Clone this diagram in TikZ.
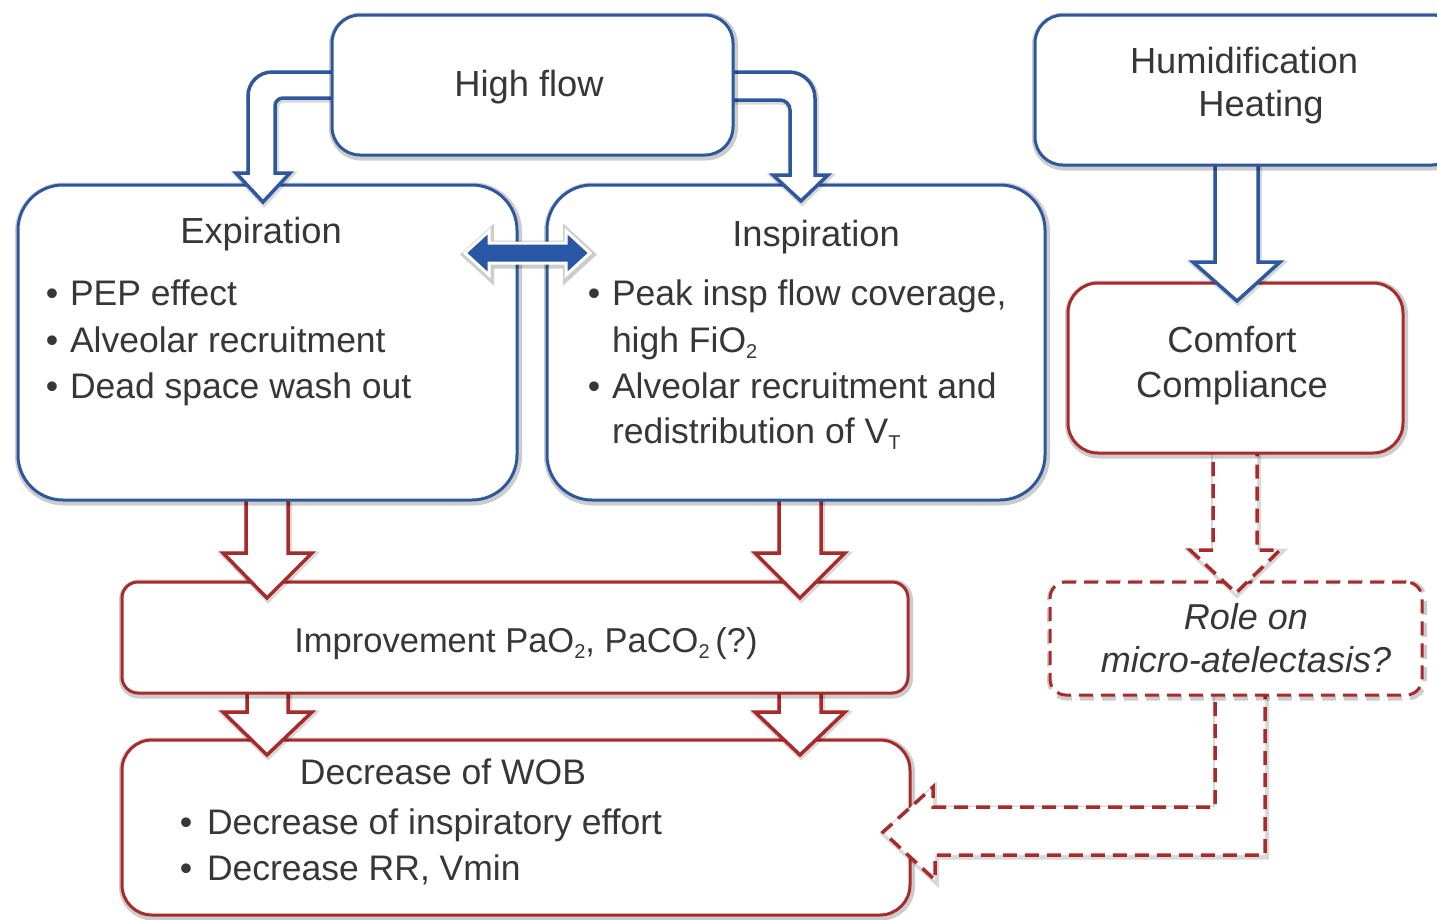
\documentclass[tikz,border=0pt]{standalone}
\usepackage{fontspec}
\setmainfont{Liberation Sans}
\definecolor{hfblue}{RGB}{46,88,158}
\definecolor{hfred}{RGB}{168,42,42}
\definecolor{txtgray}{RGB}{55,55,55}
\definecolor{arrblue}{RGB}{40,88,165}
\newcommand\mysub[1]{\raisebox{-6pt}{\fontsize{20}{20}\selectfont #1}}
\begin{document}
\begin{tikzpicture}[x=1pt,y=-1pt,
  txt/.style={text=txtgray, font=\fontsize{35.5}{42}\selectfont, inner sep=0pt, outer sep=0pt},
  head/.style={txt, font=\fontsize{36.3}{42}\selectfont},
  itxt/.style={txt, font=\fontsize{36}{42}\selectfont\itshape},
  halo/.style={preaction={draw=black, draw opacity=0.2, line width=8pt, transform canvas={shift={(1pt,-1.5pt)}}}},
  halosmall/.style={preaction={draw=black, draw opacity=0.15, line width=6pt, transform canvas={shift={(1pt,-1.5pt)}}}},
  box/.style={draw, line width=3pt, fill=white, inner sep=0pt, outer sep=0pt, halo},
  bluebox/.style={box, draw=hfblue},
  redbox/.style={box, draw=hfred},
  dashbox/.style={redbox, dash pattern=on 14pt off 8pt},
  barrow/.style={draw=hfblue, line width=3.5pt, fill=white, line join=miter, halosmall},
  rarrow/.style={draw=hfred, line width=3.5pt, fill=white, line join=miter, halosmall},
  darrow/.style={rarrow, dash pattern=on 14pt off 8pt},
  dblarrow/.style={draw=white, line width=3pt, fill=arrblue, line join=miter, halo}
]
\useasboundingbox (0,0) rectangle (1437,919);
\clip (0,0) rectangle (1437,919);
\fill[white] (0,0) rectangle (1437,919);

% bottom box: Decrease of WOB
\node[redbox, rounded corners=30pt, minimum width=788pt, minimum height=175pt] (wob) at (516,827.5) {};
% dashed L arrow from Role box to WOB
\draw[darrow] (1215,680) -- (1215,807) -- (933,807) -- (933,787) -- (883,832) -- (935,880) -- (935,855) -- (1265,855) -- (1265,680) -- cycle;
% arrows Improvement -> WOB
\draw[rarrow] (247,675) -- (247,712) -- (223,712) -- (267,755) -- (312,712) -- (288,712) -- (288,675) -- cycle;
\draw[rarrow] (779,675) -- (779,712) -- (755,712) -- (800,755) -- (845,712) -- (821,712) -- (821,675) -- cycle;
% Improvement box
\node[redbox, rounded corners=16pt, minimum width=786pt, minimum height=111pt] (imp) at (515,637.5) {};
% arrows Expiration/Inspiration -> Improvement
\draw[rarrow] (246,480) -- (246,553) -- (223,553) -- (267,598) -- (312,553) -- (288,553) -- (288,480) -- cycle;
\draw[rarrow] (779,480) -- (779,553) -- (755,553) -- (800,598) -- (845,553) -- (821,553) -- (821,480) -- cycle;
% Role box
\node[dashbox, rounded corners=16pt, minimum width=372pt, minimum height=113pt] (role) at (1236,638.5) {};
% Comfort -> Role arrow
\draw[darrow] (1213,440) -- (1213,550) -- (1190,550) -- (1236,593) -- (1280,550) -- (1257,550) -- (1257,440) -- cycle;
% Comfort box
\node[redbox, rounded corners=30pt, minimum width=335pt, minimum height=170pt] (comf) at (1235.5,368) {};
% Humidification -> Comfort arrow
\draw[barrow] (1215,150) -- (1215,262) -- (1193,262) -- (1237,301) -- (1280,262) -- (1258,262) -- (1258,150) -- cycle;
% Humidification box
\node[bluebox, rounded corners=28pt, minimum width=425pt, minimum height=150pt] (hum) at (1247.5,90) {};
% Expiration and Inspiration boxes
\node[bluebox, rounded corners=45pt, minimum width=499pt, minimum height=315pt] (exp) at (267.5,342.5) {};
\node[bluebox, rounded corners=45pt, minimum width=498pt, minimum height=315pt] (insp) at (796,342.5) {};
% High flow bent arrows
\draw[barrow] (345,72) [rounded corners=24pt] -- (248,72) -- (248,130) [sharp corners] -- (248,173) -- (236,173) -- (263,202) -- (290,173) -- (275,173) [rounded corners=8pt] -- (275,98) -- (300,98) [sharp corners] -- (345,98) -- cycle;
\draw[barrow] (720,72) [rounded corners=26pt] -- (815,72) -- (815,130) [sharp corners] -- (815,175) -- (828,175) -- (801,201) -- (773,175) -- (790,175) [rounded corners=10pt] -- (790,100) -- (760,100) [sharp corners] -- (720,100) -- cycle;
% High flow box
\node[bluebox, rounded corners=28pt, minimum width=401pt, minimum height=140pt] (hf) at (532.5,85) {};
% double arrow between Expiration and Inspiration
\draw[dblarrow] (465,253) -- (489,231) -- (489,243) -- (566,243) -- (566,231) -- (590,253) -- (566,275) -- (566,263) -- (489,263) -- (489,275) -- cycle;

% texts
\node[head, anchor=base] (thf) at (529,96) {High flow};
\node[head, anchor=base] (thu1) at (1244,73) {Humidification};
\node[head, anchor=base] (thu2) at (1261,116) {Heating};

\node[head, anchor=base] (texp) at (261,243) {Expiration};
\node[txt, anchor=base] (eb1) at (52,305) {\textbullet};
\node[txt, anchor=base] (eb2) at (52,352) {\textbullet};
\node[txt, anchor=base] (eb3) at (52,398) {\textbullet};
\node[txt, anchor=base west] (et1) at (70,305) {PEP effect};
\node[txt, anchor=base west] (et2) at (70,352) {Alveolar recruitment};
\node[txt, anchor=base west] (et3) at (70,398) {Dead space wash out};

\node[head, anchor=base] (tinsp) at (816,246) {Inspiration};
\node[txt, anchor=base] (ib1) at (594,305) {\textbullet};
\node[txt, anchor=base] (ib2) at (594,398) {\textbullet};
\node[txt, anchor=base west] (it1) at (612,305) {Peak insp flow coverage,};
\node[txt, anchor=base west] (it2) at (612,352) {high FiO\mysub{2}};
\node[txt, anchor=base west] (it3) at (612,398) {Alveolar recruitment and};
\node[txt, anchor=base west] (it4) at (612,443) {redistribution of V\mysub{T}};

\node[head, anchor=base] (tc1) at (1232,352) {Comfort};
\node[head, anchor=base] (tc2) at (1232,397) {Compliance};

\node[itxt, anchor=base] (tr1) at (1246,629) {Role on};
\node[itxt, anchor=base] (tr2) at (1246,672) {micro-atelectasis?};

\node[txt, font=\fontsize{34.5}{42}\selectfont, anchor=base] (timp) at (526,652) {Improvement PaO\mysub{2}, PaCO\mysub{2}\,(?)};

\node[txt, anchor=base] (twob) at (443,784) {Decrease of WOB};
\node[txt, anchor=base] (wb1) at (186,834) {\textbullet};
\node[txt, anchor=base] (wb2) at (186,880) {\textbullet};
\node[txt, anchor=base west] (wt1) at (207,834) {Decrease of inspiratory effort};
\node[txt, anchor=base west] (wt2) at (207,880) {Decrease RR, Vmin};
\end{tikzpicture}
\end{document}
